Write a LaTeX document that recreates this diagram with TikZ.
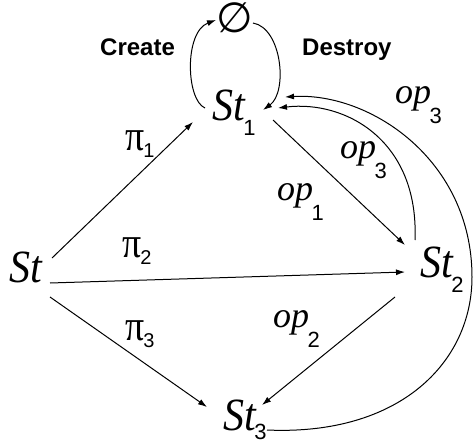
\documentclass[tikz,border=0pt]{standalone}
\usepackage{fontspec}
\usepackage{graphicx}
\setmainfont{Liberation Serif}
\newfontfamily\subfont{Liberation Sans}
\newfontfamily\symfont{DejaVu Sans}
\usetikzlibrary{arrows.meta}
\newcommand\StN[2][-15pt]{\scalebox{1}[1.1]{\fontsize{42}{42}\selectfont\itshape St}\ifx&#2&\else\kern-1.5pt\raisebox{#1}{\fontsize{22}{22}\selectfont\subfont #2}\fi}
\newcommand\opN[1]{{\fontsize{36}{36}\selectfont\itshape op}\kern-1.5pt\raisebox{-20pt}{\fontsize{22}{22}\selectfont\subfont #1}}
\newcommand\piN[1]{\scalebox{1.05}[1.2]{\fontsize{36}{36}\selectfont π}\kern-1pt\raisebox{-7pt}{\fontsize{20}{20}\selectfont\subfont #1}}
\tikzset{
  lbl/.style={inner sep=0pt, anchor=base west},
  word/.style={inner sep=0pt, anchor=base west, font=\subfont\bfseries\fontsize{24}{24}\selectfont},
  arr/.style={line width=1pt, -{Latex[length=9pt,width=6pt]}},
}
\begin{document}
\begin{tikzpicture}[x=1pt,y=-1pt]
\useasboundingbox (0,0) rectangle (474,447);
% states
\node[lbl] (st) at (9,282) {\StN{}};
\node[lbl] (s1) at (212,120) {\StN{1}};
\node[lbl] (s2) at (420,277) {\StN{2}};
\node[lbl] (s3) at (223,430) {\StN[-9pt]{3}};
\node[inner sep=0pt] (empty) at (235,18) {\symfont\fontsize{42}{42}\selectfont ∅};
% labels
\node[word] (create) at (100,55) {Create};
\node[word] (destroy) at (302,55) {Destroy};
\node[lbl] (p1) at (125,150) {\piN{1}};
\node[lbl] (p2) at (122,257) {\piN{2}};
\node[lbl] (p3) at (125,340) {\piN{3}};
\node[lbl] (o1) at (277,200) {\opN{1}};
\node[lbl] (o3a) at (340,158) {\opN{3}};
\node[lbl] (o3b) at (395,103) {\opN{3}};
\node[lbl] (o2) at (273,327) {\opN{2}};
% connectors
\draw[arr] ([shift={(43,-24)}]st.base west) -- ([shift={(-19,2)}]s1.base west);
\draw[arr] ([shift={(41,1)}]st.base west) -- ([shift={(-15,-5)}]s2.base west);
\draw[arr] ([shift={(41,15)}]st.base west) -- ([shift={(-16,-23)}]s3.base west);
\draw[arr] ([shift={(61,0)}]s1.base west) -- ([shift={(-15,-32)}]s2.base west);
\draw[arr] ([shift={(-25,20)}]s2.base west) -- ([shift={(39,-25)}]s3.base west);
\draw[arr] ([shift={(-5,-37)}]s2.base west) .. controls (419,140) and (345,100) .. ([shift={(66,-12)}]s1.base west);
\draw[arr] ([shift={(44,0)}]s3.base west) .. controls (400,436) and (472,362) .. (472,277) .. controls (472,160) and (370,92) .. ([shift={(73,-23)}]s1.base west);
\draw[arr] ([shift={(-7,-12)}]s1.base west) .. controls (186,100) and (184,32) .. ([shift={(-19,2)}]empty.center);
\draw[arr] ([shift={(18,5)}]empty.center) .. controls (282,28) and (288,92) .. ([shift={(51,-10)}]s1.base west);
\end{tikzpicture}
\end{document}
